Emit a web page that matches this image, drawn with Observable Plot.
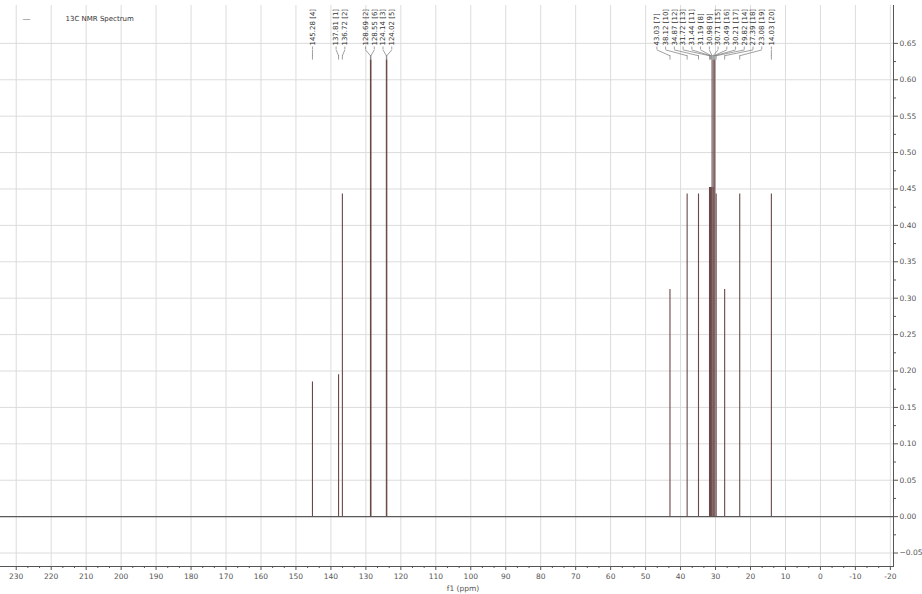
<!DOCTYPE html>
<html>
<head>
<meta charset="utf-8">
<script src="https://cdn.jsdelivr.net/npm/d3@7"></script>
<script src="https://cdn.jsdelivr.net/npm/@observablehq/plot@0.6"></script>
<style>
  html, body { margin: 0; padding: 0; background: #fff; }
  #chart svg { display: block; }
</style>
</head>
<body>
<div id="chart"></div>
<script>
// ---- data ----
const peakPpm    = [145.28, 137.81, 136.72, 128.69, 128.55, 124.14, 124.02,
                    43.03, 38.12, 34.87, 31.72, 31.44, 31.19, 30.98, 30.71, 30.49, 30.21, 29.82, 27.39, 23.08, 14.03];
const peakHeight = [0.185, 0.195, 0.443, 0.627, 0.627, 0.627, 0.627,
                    0.312, 0.443, 0.443, 0.452, 0.452, 0.452, 0.627, 0.452, 0.627, 0.627, 0.443, 0.312, 0.443, 0.443];
const peakAtom   = [4, 1, 2, 2, 6, 3, 5,
                    7, 10, 12, 13, 11, 8, 9, 15, 16, 17, 14, 18, 19, 20];
const xTicks = [230, 220, 210, 200, 190, 180, 170, 160, 150, 140, 130, 120, 110, 100, 90, 80, 70, 60, 50, 40, 30, 20, 10, 0, -10, -20];
const yTicks = [-0.05, 0.00, 0.05, 0.10, 0.15, 0.20, 0.25, 0.30, 0.35, 0.40, 0.45, 0.50, 0.55, 0.60, 0.65];
const legendLabel = "13C NMR Spectrum";
const xLabel = "f1 (ppm)";

// ---- derived ----
const xDomain = [234.5, -20.9];
const yDomain = [-0.0685, 0.702];
const xMinor = xTicks.slice(0, -1).flatMap(t => [t - 10 / 3, t - 20 / 3]);
const yMinor = yTicks.slice(0, -1).map(t => t + 0.025);

// spread labels so they don't overlap (merging clusters, centred on the mean)
function spreadLabels(values, gap) {
  let groups = values.map((v, i) => ({ idx: [i], vals: [v] }));
  const center = g => d3.mean(g.vals);
  const hi = g => center(g) + (g.vals.length - 1) * gap / 2;
  const lo = g => center(g) - (g.vals.length - 1) * gap / 2;
  let merged = true;
  while (merged) {
    merged = false;
    for (let i = 0; i < groups.length - 1; i++) {
      if (lo(groups[i]) - hi(groups[i + 1]) < gap) {
        groups[i] = { idx: groups[i].idx.concat(groups[i + 1].idx), vals: groups[i].vals.concat(groups[i + 1].vals) };
        groups.splice(i + 1, 1);
        merged = true;
        break;
      }
    }
  }
  const out = new Array(values.length);
  for (const g of groups) {
    const c = center(g), n = g.vals.length;
    g.idx.forEach((id, k) => { out[id] = c + ((n - 1) / 2 - k) * gap; });
  }
  return out;
}

const labelPos = spreadLabels(peakPpm, 2.5);
const peaks = peakPpm.map((p, i) => ({
  ppm: p,
  h: peakHeight[i],
  lx: labelPos[i],
  label: p.toFixed(2) + " [" + peakAtom[i] + "]"
}));

const yLabel = 0.647, yKnee = 0.641, yFoot = 0.633, yEnd = 0.627;

const chart = Plot.plot({
  width: 922,
  height: 594,
  marginLeft: 0,
  marginRight: 29,
  marginTop: 5,
  marginBottom: 28,
  style: { fontFamily: "DejaVu Sans, sans-serif", fontSize: "7.5px", color: "#555", background: "#fff" },
  x: { domain: xDomain, axis: null },
  y: { domain: yDomain, axis: null },
  marks: [
    Plot.gridX(xTicks, { stroke: "#dcdcdc", strokeOpacity: 1 }),
    Plot.gridY(yTicks, { stroke: "#dcdcdc", strokeOpacity: 1 }),
    Plot.ruleY([0], { stroke: "#5a5a5a", strokeWidth: 1.2 }),
    Plot.ruleX(peaks, { x: "ppm", y1: 0, y2: "h", stroke: "#6a4848", strokeWidth: 1.1 }),
    // label connectors
    Plot.ruleX(peaks, { x: "lx", y1: yKnee, y2: yLabel - 0.002, stroke: "#777", strokeWidth: 0.7 }),
    Plot.link(peaks, { x1: "lx", y1: yKnee, x2: "ppm", y2: yFoot, stroke: "#777", strokeWidth: 0.7 }),
    Plot.ruleX(peaks, { x: "ppm", y1: yEnd, y2: yFoot, stroke: "#777", strokeWidth: 0.7 }),
    Plot.text(peaks, { x: "lx", y: yLabel, text: "label", rotate: -90, textAnchor: "start", fontSize: 7, fill: "#333" }),
    // axes
    Plot.frame({ anchor: "right", stroke: "#555" }),
    Plot.frame({ anchor: "bottom", stroke: "#555" }),
    Plot.axisX(xTicks, { anchor: "bottom", tickSize: 4, tickPadding: 3, tickFormat: d => String(d), label: null, fill: "#555" }),
    Plot.axisX(xMinor, { anchor: "bottom", tickSize: 2, text: null, label: null }),
    Plot.axisY(yTicks, { anchor: "right", tickSize: 4, tickPadding: 2, tickFormat: d3.format(".2f"), label: null, fill: "#555" }),
    Plot.axisY(yMinor, { anchor: "right", tickSize: 2, text: null, label: null }),
    Plot.text([xLabel], { frameAnchor: "bottom", dx: 16, dy: 24, fontSize: 7.5, fill: "#555" }),
    // legend
    Plot.text(["—"], { frameAnchor: "top-left", dx: 22, dy: 11, fontSize: 8, fill: "#888" }),
    Plot.text([legendLabel], { frameAnchor: "top-left", dx: 65, dy: 11, textAnchor: "start", fontSize: 7, fill: "#333" })
  ]
});
document.getElementById("chart").appendChild(chart);
</script>
</body>
</html>
